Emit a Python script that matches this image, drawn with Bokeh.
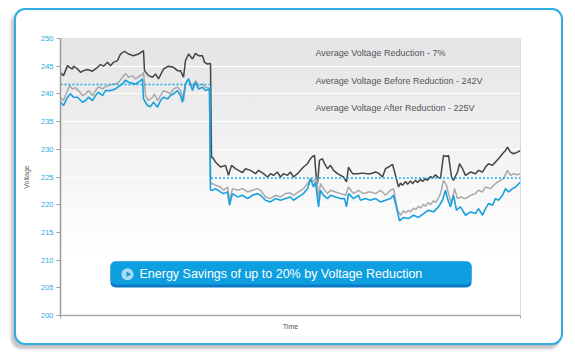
from bokeh.plotting import figure
from bokeh.models import Range1d, FixedTicker, Span, BoxAnnotation, Label
from bokeh.embed import file_html
from bokeh.resources import INLINE

# ---------------- data ----------------
t_dark = [0, 3, 7, 9, 12, 13, 17, 20, 23, 27, 32, 37, 40, 43, 47, 50, 53, 57, 60, 64,
          68, 73, 78, 83, 84, 88, 92, 95, 98, 103, 108, 113, 117, 120, 123, 125, 128, 132,
          135, 138, 142, 144, 147, 150, 151, 152, 155, 160, 165, 168, 171, 175, 178, 182,
          185, 190, 195, 198, 203, 207, 210, 213, 217, 220, 223, 227, 230, 233, 237, 240,
          243, 247, 250, 252, 254, 256, 257, 259, 262, 264, 267, 270, 273, 277, 280, 283,
          286, 288, 292, 297, 302, 307, 310, 315, 318, 322, 325, 328, 332, 335,
          338, 340, 342, 345, 347, 350, 352, 355, 357, 360, 362, 365, 367, 370, 372, 375, 377, 380,
          383, 386, 388, 391, 393, 397, 399, 402,
          405, 410, 415, 418, 422, 425, 428, 432, 435, 438, 442, 445, 447, 450, 453, 457, 460]
v_dark = [243.8, 243.3, 245.1, 244.8, 244.5, 245.0, 244.5, 243.9, 244.2, 244.4, 244.1, 244.8,
          245.3, 245.0, 245.7, 245.1, 245.7, 246.0, 247.2, 247.7, 247.2, 246.9, 247.2, 247.8,
          244.2, 243.3, 243.0, 243.6, 242.7, 244.5, 245.0, 244.8, 244.2, 244.2, 243.0, 246.0,
          247.2, 246.3, 247.3, 246.9, 246.9, 245.7, 245.4, 245.5, 228.5, 228.6, 227.7, 226.8,
          227.1, 225.3, 227.1, 226.5, 226.2, 225.8, 226.5, 226.2, 225.6, 226.2, 225.6, 225.0,
          225.6, 225.3, 225.9, 225.0, 225.6, 225.3, 225.9, 225.0, 225.6, 226.2, 226.8, 227.4,
          228.3, 228.7, 228.9, 224.4, 223.8, 228.0, 228.3, 227.4, 226.5, 227.1, 226.2, 225.6,
          225.3, 225.0, 224.1, 226.8, 225.6, 225.6, 225.7, 225.6, 225.6, 225.9, 225.7, 225.0,
          226.5, 226.8, 227.3, 225.3,
          223.2, 223.9, 223.5, 224.2, 223.7, 224.3, 223.8, 224.4, 224.0, 224.6, 224.2, 224.7,
          224.4, 225.1, 224.8, 225.4, 225.0, 224.7,
          228.9, 228.7, 228.9, 225.0, 224.4, 225.9, 227.4, 226.5, 225.3, 225.9,
          225.6, 226.2, 225.9, 226.8, 227.4, 227.1, 227.7, 228.3, 229.2, 229.8, 230.4, 229.5,
          229.2, 229.5, 229.8]

t_grey = [0, 3, 7, 9, 12, 15, 18, 22, 25, 28, 32, 35, 38, 42, 45, 48, 52, 55, 58, 62,
          65, 68, 72, 75, 78, 82, 83, 85, 88, 92, 94, 97, 100, 103, 107, 110, 113, 117, 120,
          123, 125, 128, 132, 135, 138, 142, 145, 148, 149, 150, 152, 155, 160, 163, 167, 169,
          172, 177, 182, 187, 192, 197, 200, 205, 210, 215, 220, 225, 230, 233, 238, 243, 247,
          250, 253, 256, 258, 260, 263, 267, 270, 275, 280, 285, 288, 293, 298, 303, 308, 310,
          315, 320, 325, 330, 333,
          337, 340, 343, 345, 348, 350, 353, 355, 358, 360, 363, 365, 368, 370, 373, 375, 378, 380,
          383, 386, 388, 391, 394, 397, 400, 405, 410, 415, 418, 422, 425, 430, 433, 437, 440,
          443, 447, 450, 453, 457, 460]
v_grey = [239.4, 238.8, 240.6, 241.5, 240.9, 241.1, 240.6, 239.7, 240.0, 240.6, 239.7, 240.6,
          241.3, 240.9, 241.3, 241.5, 241.8, 241.8, 242.1, 243.0, 243.7, 243.0, 243.3, 242.7,
          243.1, 243.5, 243.9, 239.7, 238.8, 239.4, 240.0, 238.8, 239.7, 240.6, 240.3, 240.0,
          240.9, 241.2, 240.6, 238.8, 241.8, 242.7, 241.2, 242.4, 241.5, 241.8, 241.2, 241.1,
          241.0, 223.8, 223.8, 223.5, 223.2, 222.6, 223.2, 220.8, 222.9, 222.6, 222.9, 222.3,
          222.6, 222.9, 222.6, 221.4, 221.1, 221.7, 221.4, 222.0, 222.1, 221.7, 222.3, 222.9,
          223.8, 224.7, 224.1, 225.0, 221.1, 223.8, 222.9, 222.0, 222.6, 222.3, 222.0, 221.7,
          223.2, 222.0, 222.6, 222.0, 222.3, 222.3, 222.0, 222.6, 221.7, 222.6, 222.9,
          219.0, 218.1, 218.9, 218.5, 219.0, 218.7, 219.4, 219.1, 219.7, 219.4, 220.1, 219.7,
          220.4, 220.0, 220.7, 220.4, 221.2, 222.0,
          224.4, 223.5, 222.0, 220.2, 222.9, 221.1, 221.4, 221.1, 221.7, 222.0, 222.6, 222.3,
          223.2, 222.9, 223.5, 224.1, 224.4, 224.7, 226.2, 225.3, 225.6, 225.4, 225.6]

t_blue = [0, 3, 7, 10, 13, 17, 22, 25, 28, 32, 35, 38, 42, 45, 50, 55, 58, 62, 65, 68,
          72, 75, 78, 82, 83, 87, 90, 93, 97, 100, 103, 107, 110, 113, 117, 120, 122, 125,
          128, 132, 135, 138, 142, 145, 148, 149, 150, 152, 155, 160, 163, 167, 169, 172, 177,
          182, 187, 192, 197, 200, 205, 210, 215, 220, 225, 230, 233, 238, 243, 247, 250, 253,
          255, 258, 260, 263, 267, 270, 275, 280, 284, 286, 288, 293, 298, 300, 305, 310, 315,
          320, 325, 330, 333, 337, 339, 343, 348, 353, 358, 363, 368, 373, 378, 382, 385, 387,
          390, 393, 396, 400, 405, 410, 415, 418, 422, 425, 428, 432, 435, 438, 442, 445, 448,
          452, 455, 460]
v_blue = [238.5, 237.9, 239.4, 240.0, 239.4, 239.4, 238.5, 238.8, 239.4, 238.8, 239.7, 240.3,
          239.7, 240.6, 240.6, 240.9, 241.3, 241.8, 242.5, 242.1, 241.9, 241.8, 242.1, 242.7,
          239.1, 237.9, 237.7, 238.5, 237.6, 238.8, 239.4, 239.1, 239.7, 240.0, 240.6, 239.7,
          238.5, 241.8, 242.7, 240.6, 242.1, 240.9, 241.2, 240.6, 240.9, 240.5, 222.6, 222.6,
          222.9, 222.3, 222.0, 222.3, 219.9, 222.0, 221.4, 221.7, 221.1, 221.7, 222.0, 221.7,
          220.8, 220.5, 221.1, 220.8, 221.1, 221.4, 220.8, 221.4, 222.0, 222.9, 224.7, 223.2,
          224.1, 219.6, 222.6, 221.7, 221.1, 221.7, 221.4, 221.1, 221.1, 219.6, 222.0, 221.1,
          221.7, 220.8, 221.1, 220.8, 221.1, 220.5, 220.8, 221.1, 221.7, 218.7, 217.1, 217.7,
          217.5, 218.1, 217.7, 218.4, 219.0, 218.7, 219.6, 220.8, 222.6, 221.1, 219.6, 221.7,
          219.0, 219.6, 218.1, 218.7, 218.4, 219.3, 218.1, 219.3, 220.2, 219.9, 221.1, 220.8,
          221.7, 222.9, 222.3, 222.9, 223.2, 224.1]

switch_time = 150
avg_before = 241.7
avg_after = 224.8
y_ticks = [200, 205, 210, 215, 220, 225, 230, 235, 240, 245, 250]
stat_texts = ["Average Voltage Reduction - 7%",
              "Average Voltage Before Reduction - 242V",
              "Average Voltage After Reduction - 225V"]
banner_text = "Energy Savings of up to 20% by Voltage Reduction"

# ---------------- figure ----------------
t_end = t_dark[-1]
p = figure(frame_width=460, frame_height=277,
           x_range=Range1d(0, t_end), y_range=Range1d(y_ticks[0], y_ticks[-1]),
           output_backend="svg", toolbar_location=None,
           min_border_left=44, min_border_right=41, min_border_top=28, min_border_bottom=28)

p.background_fill_color = None
p.border_fill_color = None
p.outline_line_color = None
p.styles = {
    "margin-left": "14px",
    "margin-top": "8px",
    "border": "2px solid #2eaee3",
    "border-radius": "11px",
    "overflow": "hidden",
    "box-shadow": "-3px 4px 3px #c4c4c4",
    "background": "linear-gradient(180deg, #e3e4e6 0%, #ebebec 20%, #f4f4f5 45%, #fcfcfc 68%, #ffffff 78%) 44px 28px / 460px 277px no-repeat, #ffffff",
}

# y axis
p.yaxis.ticker = FixedTicker(ticks=y_ticks)
p.yaxis.major_label_text_color = "#2aa8e0"
p.yaxis.major_label_text_font_size = "7.5px"
p.yaxis.major_label_text_font = "Liberation Sans"
p.yaxis.major_tick_out = 4
p.yaxis.major_tick_in = 0
p.yaxis.minor_tick_line_color = None
p.yaxis.major_tick_line_color = "#9a9a9a"
p.yaxis.axis_line_color = "#9a9a9a"
p.yaxis.axis_line_width = 1.5
p.yaxis.major_label_standoff = 3
p.yaxis.axis_label = "Voltage"
p.yaxis.axis_label_text_font_size = "7px"
p.yaxis.axis_label_text_font_style = "normal"
p.yaxis.axis_label_text_color = "#666666"
p.yaxis.axis_label_text_font = "Liberation Sans"
p.yaxis.axis_label_standoff = 8

# x axis
p.xaxis.ticker = FixedTicker(ticks=[0, t_end])
p.xaxis.major_label_overrides = {0: "", t_end: ""}
p.xaxis.major_label_text_font_size = "1px"
p.xaxis.major_tick_out = 3
p.xaxis.major_tick_in = 0
p.xaxis.minor_tick_line_color = None
p.xaxis.major_tick_line_color = "#a8a8a8"
p.xaxis.axis_line_color = "#a8a8a8"
p.xaxis.axis_line_width = 1.5
p.xaxis.axis_label = "Time"
p.xaxis.axis_label_text_font_size = "7px"
p.xaxis.axis_label_text_font_style = "normal"
p.xaxis.axis_label_text_color = "#555555"
p.xaxis.axis_label_text_font = "Liberation Sans"
p.xaxis.axis_label_standoff = 4

p.xgrid.visible = False
p.ygrid.grid_line_color = "white"
p.ygrid.grid_line_width = 1.2

p.add_layout(Span(location=t_end, dimension="height", line_color="#b5b5b5", line_width=1))

# series
p.line(t_dark, v_dark, line_color="#444444", line_width=1.5)
p.line(t_grey, v_grey, line_color="#a9a9a9", line_width=1.5)
p.line(t_blue, v_blue, line_color="#19a0dd", line_width=1.6)

# average dotted line
p.line([0, switch_time, switch_time, t_end], [avg_before, avg_before, avg_after, avg_after],
       line_color="#1aa3e4", line_width=1.5, line_dash="2 2")

# stat texts
for txt, yv in zip(stat_texts, [247.3, 242.4, 237.5]):
    p.add_layout(Label(x=255, y=yv, text=txt, text_font="Liberation Sans",
                       text_font_size="9px", text_color="#555555", text_baseline="middle"))

# banner
p.add_layout(BoxAnnotation(left=50, right=411, bottom=205.05, top=209.75,
                           fill_color="#0a78c4", fill_alpha=1, line_color=None, border_radius=5))
p.add_layout(BoxAnnotation(left=50, right=411, bottom=205.6, top=209.75,
                           fill_color="#0e9fe0", fill_alpha=1, line_color=None, border_radius=5))
c1 = p.scatter([67], [207.45], size=12, fill_color="#a9dcf4", line_color=None)
c2 = p.scatter([67.6], [207.45], size=5.5, marker="triangle", angle=-1.5708,
               fill_color="#1593d6", line_color=None)
c1.level = "overlay"
c2.level = "overlay"
p.add_layout(Label(x=79, y=207.45, text=banner_text, text_font="Liberation Sans",
                   text_font_size="12.5px", text_color="white", text_baseline="middle"))

open("out.html", "w").write(file_html(p, INLINE))
